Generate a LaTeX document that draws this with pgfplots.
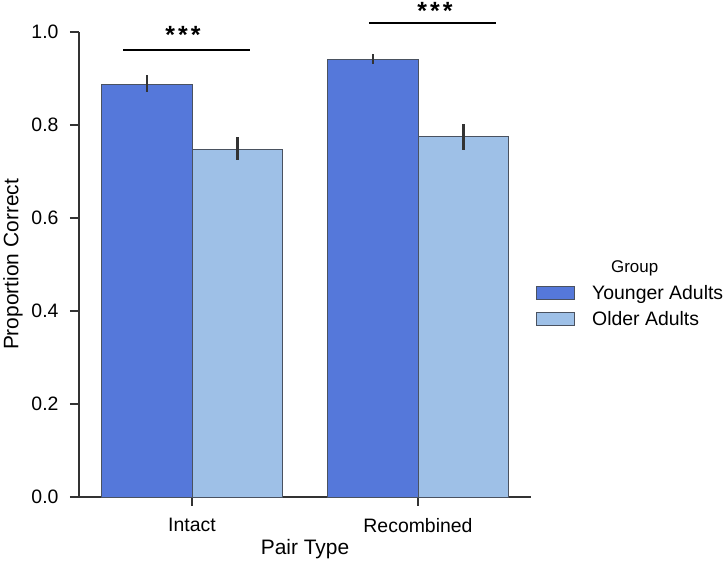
\documentclass[border=0pt]{standalone}
\usepackage{pgfplots}
\pgfplotsset{compat=1.18}
\usepackage{fontspec}
\setmainfont{Liberation Sans}
\definecolor{young}{HTML}{5578DA}
\definecolor{old}{HTML}{9EC0E7}
\definecolor{edge}{HTML}{4A5260}
\definecolor{spine}{HTML}{333333}
\begin{document}
\begin{tikzpicture}
\path[use as bounding box] (0,0) rectangle (726bp,568bp);
\begin{axis}[
  at={(79bp,71bp)}, anchor=south west,
  scale only axis, width=452bp, height=465bp,
  xmin=-0.5, xmax=1.5, ymin=0, ymax=1,
  axis lines*=left, axis line style={-, draw=spine, line width=1.3bp},
  tick align=outside, major tick length=9bp,
  tick style={draw=spine, line width=1.3bp},
  xtick={0,1}, xticklabels={Intact, Recombined},
  ytick={0,0.2,0.4,0.6,0.8,1.0},
  /pgf/number format/assume math mode=true,
  ticklabel style={font=\fontsize{19.5}{22}\selectfont, text=black},
  xticklabel style={yshift=-9bp},
  yticklabel style={xshift=-8bp, /pgf/number format/.cd, fixed, fixed zerofill, precision=1},
  xlabel={Pair Type}, ylabel={Proportion Correct},
  every axis x label/.style={at={(axis description cs:0.5,-0.112)}, anchor=center, font=\fontsize{21}{24}\selectfont},
  every axis y label/.style={at={(axis description cs:-0.146,0.5)}, rotate=90, anchor=center, font=\fontsize{21}{24}\selectfont},
  clip=false,
  legend cell align=left,
  legend style={at={(axis description cs:1.011,0.513)}, anchor=north west, draw=none, fill=none,
    font=\fontsize{19.5}{22}\selectfont, row sep=7bp, inner sep=0pt,
    /tikz/every odd column/.append style={column sep=15bp}},
  legend image code/.code={\draw[#1, line width=1bp] (0bp,-6.5bp) rectangle (38bp,6.5bp);},
]
\addlegendimage{empty legend}
\addlegendentry{\hspace{19bp}\fontsize{17}{20}\selectfont Group}
\addplot[ybar, bar width=0.4, bar shift=0pt, fill=young, draw=edge, line width=1bp,
  error bars/.cd, y dir=both, y explicit,
  error bar style={line width=2.6bp, draw=spine}, error mark=none]
  coordinates {(-0.2,0.888) += (0,0.020) -= (0,0.017)
               (0.8,0.940) += (0,0.013) -= (0,0.009)};
\addlegendentry{Younger Adults}
\addplot[ybar, bar width=0.4, bar shift=0pt, fill=old, draw=edge, line width=1bp,
  error bars/.cd, y dir=both, y explicit,
  error bar style={line width=2.6bp, draw=spine}, error mark=none]
  coordinates {(0.2,0.748) += (0,0.026) -= (0,0.023)
               (1.2,0.776) += (0,0.026) -= (0,0.030)};
\addlegendentry{Older Adults}
\draw[line width=1.5bp, black] (axis cs:-0.305,0.961) -- (axis cs:0.257,0.961);
\draw[line width=1.5bp, black] (axis cs:0.783,1.019) -- (axis cs:1.345,1.019);
\node[anchor=base, font=\bfseries\fontsize{25}{25}\selectfont] at (axis cs:-0.04,0.975) {*\kern3bp*\kern3bp*};
\node[anchor=base, font=\bfseries\fontsize{25}{25}\selectfont] at (axis cs:1.075,1.026) {*\kern3bp*\kern3bp*};
\end{axis}
\end{tikzpicture}
\end{document}
